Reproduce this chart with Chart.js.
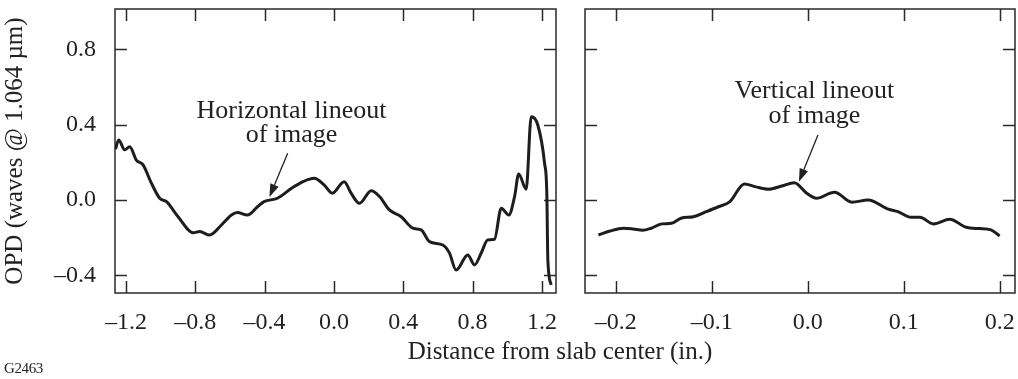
<!DOCTYPE html>
<html lang="en">
<head>
<meta charset="UTF-8">
<title>OPD lineouts</title>
<script src="https://cdn.jsdelivr.net/npm/chart.js"></script>
<style>
  body { margin: 0; background: #fff; width: 1018px; height: 379px; position: relative; overflow: hidden;
         font-family: "Liberation Serif", "Times New Roman", serif; color: #222; }
  #leftBox  { position: absolute; left: 0;     top: 0; width: 570px; height: 379px; }
  #rightBox { position: absolute; left: 570px; top: 0; width: 448px; height: 379px; }
  #xTitle { position: absolute; left: 360px; width: 400px; top: 336px; text-align: center; font-size: 25px; line-height: 30px; }
  #figId { position: absolute; left: 4px; top: 360px; font-size: 15px; letter-spacing: -0.4px; }
</style>
</head>
<body>
<div id="leftBox"><canvas id="leftChart" width="570" height="379"></canvas></div>
<div id="rightBox"><canvas id="rightChart" width="448" height="379"></canvas></div>
<div id="xTitle">Distance from slab center (in.)</div>
<div id="figId">G2463</div>

<script>
// horizontal lineout (inches, waves)
const horizX = [-1.26, -1.242, -1.207, -1.178, -1.14, -1.101, -1.053, -1.005, -0.966, -0.899,
  -0.812, -0.774, -0.717, -0.649, -0.591, -0.557, -0.499, -0.441, -0.403, -0.326,
  -0.23, -0.114, -0.057, -0.009, 0.059, 0.099, 0.147, 0.215, 0.263, 0.32,
  0.388, 0.455, 0.503, 0.551, 0.628, 0.666, 0.705, 0.772, 0.811, 0.849,
  0.887, 0.926, 0.965, 1.009, 1.042, 1.066, 1.109, 1.138, 1.176, 1.215,
  1.228, 1.234, 1.253];
const horizOPD = [0.27, 0.319, 0.266, 0.283, 0.212, 0.186, 0.089, 0.009, -0.009, -0.089,
  -0.174, -0.168, -0.186, -0.133, -0.08, -0.067, -0.08, -0.036, -0.009, 0.009,
  0.071, 0.115, 0.08, 0.036, 0.097, 0.036, -0.018, 0.049, 0.018, -0.053,
  -0.089, -0.15, -0.159, -0.221, -0.239, -0.281, -0.372, -0.292, -0.345, -0.283,
  -0.212, -0.209, -0.044, -0.08, 0.018, 0.138, 0.057, 0.442, 0.398, 0.195,
  0.036, -0.319, -0.451];

// vertical lineout
const vertX = [-0.218, -0.206, -0.192, -0.182, -0.172, -0.163, -0.152, -0.142, -0.132, -0.119,
  -0.107, -0.093, -0.081, -0.066, -0.055, -0.041, -0.027, -0.014, -0.001, 0.009,
  0.028, 0.046, 0.063, 0.084, 0.094, 0.108, 0.117, 0.131, 0.148, 0.165,
  0.179, 0.191, 0.2];
const vertOPD = [-0.186, -0.165, -0.15, -0.154, -0.161, -0.15, -0.127, -0.124, -0.097, -0.089,
  -0.065, -0.036, -0.009, 0.085, 0.071, 0.057, 0.074, 0.092, 0.036, 0.009,
  0.041, -0.012, 0.0, -0.049, -0.062, -0.092, -0.092, -0.127, -0.102, -0.145,
  -0.152, -0.159, -0.191];

const leftTicksX = [-1.2, -0.8, -0.4, 0, 0.4, 0.8, 1.2];
const rightTicksX = [-0.2, -0.1, 0, 0.1, 0.2];
const ticksY = [-0.4, 0, 0.4, 0.8];

const INK = '#1d1d1d';
const SERIF = '"Liberation Serif", "Times New Roman", serif';

function fmt(v) {
  return (v < -1e-9 ? '\u2013' : '') + Math.abs(v).toFixed(1);
}

// boxed frame with short inward ticks on all four sides
const frameTicks = {
  id: 'frameTicks',
  beforeDatasetsDraw(chart) {
    const { ctx, chartArea: a, scales: { x, y } } = chart;
    ctx.save();
    ctx.strokeStyle = '#2a2a2a';
    ctx.lineWidth = 1.5;
    ctx.strokeRect(a.left, a.top, a.right - a.left, a.bottom - a.top);
    ctx.beginPath();
    x.ticks.forEach(t => {
      const px = Math.round(x.getPixelForValue(t.value)) + 0.5;
      ctx.moveTo(px, a.top); ctx.lineTo(px, a.top + 12);
      ctx.moveTo(px, a.bottom); ctx.lineTo(px, a.bottom - 12);
    });
    y.ticks.forEach(t => {
      const py = Math.round(y.getPixelForValue(t.value)) + 0.5;
      ctx.moveTo(a.left, py); ctx.lineTo(a.left + 12, py);
      ctx.moveTo(a.right, py); ctx.lineTo(a.right - 12, py);
    });
    ctx.stroke();
    ctx.restore();
  }
};

// two-line label with an arrow pointing at the curve
const lineoutNote = {
  id: 'lineoutNote',
  afterDatasetsDraw(chart, args, opts) {
    if (!opts.text) return;
    const { ctx, scales: { x, y } } = chart;
    ctx.save();
    ctx.fillStyle = '#222';
    ctx.font = '26px ' + SERIF;
    ctx.textAlign = 'center';
    ctx.textBaseline = 'alphabetic';
    const tx = x.getPixelForValue(opts.at[0]);
    const ty = y.getPixelForValue(opts.at[1]);
    opts.text.forEach((s, i) => ctx.fillText(s, tx, ty + i * opts.lead));

    const x0 = x.getPixelForValue(opts.tail[0]), y0 = y.getPixelForValue(opts.tail[1]);
    const x1 = x.getPixelForValue(opts.tip[0]), y1 = y.getPixelForValue(opts.tip[1]);
    const ang = Math.atan2(y1 - y0, x1 - x0);
    const head = 13, half = 4.5;
    const bx = x1 - head * Math.cos(ang), by = y1 - head * Math.sin(ang);
    ctx.strokeStyle = '#222';
    ctx.lineWidth = 1.3;
    ctx.beginPath();
    ctx.moveTo(x0, y0);
    ctx.lineTo(bx, by);
    ctx.stroke();
    ctx.beginPath();
    ctx.moveTo(x1, y1);
    ctx.lineTo(bx + half * Math.sin(ang), by - half * Math.cos(ang));
    ctx.lineTo(bx - half * Math.sin(ang), by + half * Math.cos(ang));
    ctx.closePath();
    ctx.fill();
    ctx.restore();
  }
};

function lineSet(xs, ys) {
  return {
    data: xs.map((v, i) => ({ x: v, y: ys[i] })),
    borderColor: INK,
    borderWidth: 3,
    pointRadius: 0,
    cubicInterpolationMode: 'monotone',
    fill: false
  };
}

function xAxis(min, max, ticks) {
  return {
    type: 'linear', min, max,
    grid: { display: false, drawTicks: false },
    border: { display: false },
    afterBuildTicks: s => { s.ticks = ticks.map(v => ({ value: v })); },
    afterFit: s => { s.height = 86; s.paddingLeft = 0; s.paddingRight = 0; },
    ticks: { color: '#222', padding: 15, maxRotation: 0, autoSkip: false,
             font: { family: SERIF, size: 24 }, callback: v => fmt(v) }
  };
}

const yMin = -0.494, yMax = 1.014;

new Chart(document.getElementById('leftChart'), {
  type: 'line',
  data: { datasets: [lineSet(horizX, horizOPD)] },
  options: {
    responsive: false, animation: false,
    layout: { padding: { top: 9, right: 14, left: 0, bottom: 0 } },
    plugins: {
      legend: { display: false }, tooltip: { enabled: false },
      lineoutNote: { text: ['Horizontal lineout', 'of image'], at: [-0.245, 0.435], lead: 24,
                     tail: [-0.267, 0.248], tip: [-0.372, 0.016] }
    },
    scales: {
      x: xAxis(-1.263, 1.281, leftTicksX),
      y: {
        type: 'linear', min: yMin, max: yMax,
        grid: { display: false, drawTicks: false },
        border: { display: false },
        afterBuildTicks: s => { s.ticks = ticksY.map(v => ({ value: v })); },
        afterFit: s => { s.width = 115; s.paddingTop = 0; s.paddingBottom = 0; },
        ticks: { color: '#222', padding: 19, font: { family: SERIF, size: 24 }, callback: v => fmt(v) },
        title: { display: true, text: 'OPD (waves @ 1.064 \u00b5m)', color: '#222', padding: 0,
                 font: { family: SERIF, size: 25 } }
      }
    }
  },
  plugins: [frameTicks, lineoutNote]
});

new Chart(document.getElementById('rightChart'), {
  type: 'line',
  data: { datasets: [lineSet(vertX, vertOPD)] },
  options: {
    responsive: false, animation: false,
    layout: { padding: { top: 9, right: 3, left: 15, bottom: 0 } },
    plugins: {
      legend: { display: false }, tooltip: { enabled: false },
      lineoutNote: { text: ['Vertical lineout', 'of image'], at: [0.007, 0.542], lead: 25,
                     tail: [0.0107, 0.345], tip: [-0.0091, 0.097] }
    },
    scales: {
      x: xAxis(-0.232, 0.216, rightTicksX),
      y: {
        type: 'linear', min: yMin, max: yMax, display: false,
        afterBuildTicks: s => { s.ticks = ticksY.map(v => ({ value: v })); }
      }
    }
  },
  plugins: [frameTicks, lineoutNote]
});
</script>
</body>
</html>
